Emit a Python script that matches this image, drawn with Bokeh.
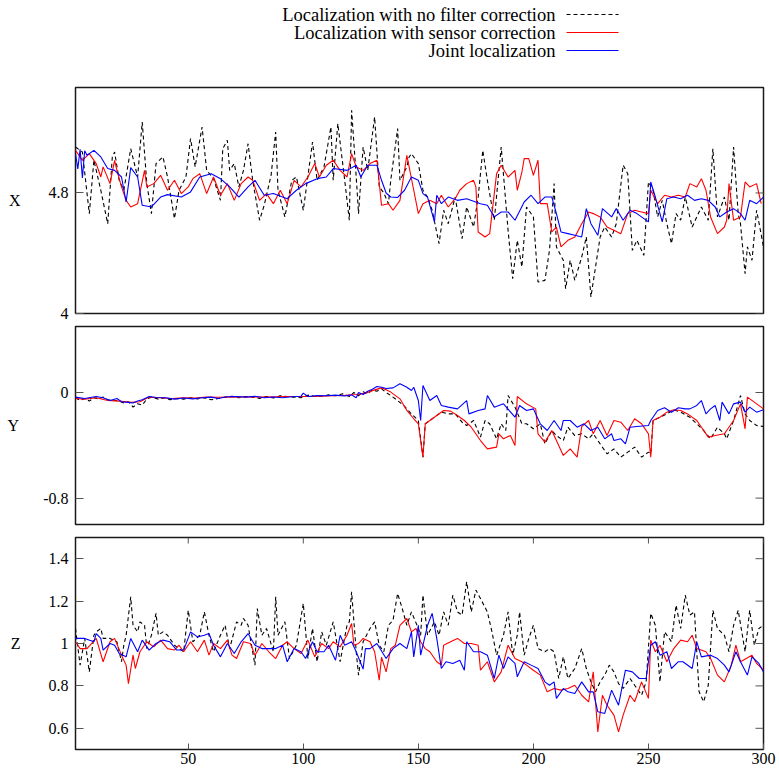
import math
from bokeh.plotting import figure
from bokeh.models import Range1d, FixedTicker, CustomJSTickFormatter, ColumnDataSource
from bokeh.layouts import column
from bokeh.embed import file_html
from bokeh.resources import INLINE
from bokeh.core.properties import value

FONT = "Liberation Serif"

series_labels = ["Localization with no filter correction",
                 "Localization with sensor correction",
                 "Joint localization"]
series_colors = ["#000000", "#ff0000", "#0000ff"]
series_dash = ["4 3", "solid", "solid"]

# ---------------- X panel ----------------
x_nofilter_t = [1,4,7,9,12,15,17,18,20,22,25,28,30,32,34,36,39,41,44,46,49,51,53,56,58,61,64,65,67,68,70,72,74,76,78,81,83,86,88,89,92,95,97,100,104,106,109,112,113,115,118,120,121,123,124,126,128,131,133,135,137,138,141,142,145,146,147,150,152,154,156,159,161,163,166,169,171,174,176,178,180,183,186,189,191,193,195,197,200,202,205,207,209,210,213,214,216,218,221,223,225,227,229,231,234,236,239,241,243,245,248,250,252,254,256,258,260,262,264,266,269,271,273,276,278,280,283,285,287,289,290,292,293,295,297,300]
x_nofilter_v = [5.105,5.072,4.663,5.017,4.818,4.596,5.039,5.072,4.884,4.818,5.094,4.906,5.271,4.862,4.663,4.995,5.039,4.906,4.63,4.818,4.906,5.161,4.973,5.238,4.95,4.895,4.751,5.094,5.15,4.95,4.995,4.84,4.95,5.127,4.884,4.619,4.718,4.917,5.205,4.818,4.641,4.884,4.906,4.685,5.138,4.884,4.973,5.238,4.884,5.26,4.884,4.619,5.349,4.906,4.663,5.105,4.95,5.304,4.84,4.80,4.729,4.884,5.227,4.884,4.973,5.039,5.061,4.995,4.818,4.773,4.685,4.464,4.685,4.596,4.773,4.497,4.707,4.574,4.773,5.083,4.884,4.619,5.105,4.552,4.231,4.486,4.309,4.707,4.641,4.209,4.22,4.42,4.862,4.442,4.353,4.165,4.353,4.22,4.375,4.508,4.11,4.309,4.508,4.574,4.508,4.596,4.984,4.928,4.419,4.486,4.386,4.873,4.818,4.641,4.751,4.596,4.464,4.663,4.619,4.773,4.574,4.641,4.707,4.619,5.094,4.641,4.773,4.619,5.105,4.663,4.596,4.264,4.442,4.353,4.685,4.442]
x_sensor_t = [1,4,7,10,12,13,16,18,19,21,23,25,28,31,32,35,38,41,44,47,50,52,55,58,61,64,67,70,73,76,78,81,84,87,90,93,96,99,102,105,107,110,113,116,119,121,123,126,129,132,134,137,139,142,145,148,150,152,155,158,160,163,166,168,171,174,175,176,179,181,184,186,189,192,193,195,196,198,200,202,203,206,208,210,212,215,218,221,224,226,229,232,235,238,241,244,247,250,251,254,257,260,263,266,268,271,273,275,277,280,283,284,285,287,290,292,294,297,299]
x_sensor_v = [5.083,5.017,5.061,4.995,4.906,4.973,4.862,5.017,4.95,4.84,4.751,4.707,4.729,4.95,4.84,4.862,4.917,4.818,4.884,4.796,4.84,4.895,4.928,4.796,4.906,4.785,4.862,4.751,4.862,4.906,4.884,4.751,4.796,4.729,4.818,4.729,4.884,4.84,4.906,4.995,4.906,4.984,5.017,4.95,4.906,5.061,4.973,4.95,4.995,5.017,4.718,4.729,4.685,4.751,5.05,4.818,4.663,4.729,4.751,4.729,4.785,4.707,4.762,4.818,4.862,4.884,4.84,4.541,4.508,4.53,4.928,4.984,4.906,4.95,4.818,4.939,5.028,5.028,4.917,5.017,4.729,4.729,4.541,4.574,4.442,4.486,4.508,4.596,4.674,4.663,4.641,4.574,4.552,4.53,4.663,4.685,4.674,4.663,4.818,4.729,4.785,4.773,4.785,4.773,4.862,4.84,4.895,4.818,4.641,4.53,4.574,4.619,4.862,4.619,4.641,4.873,4.84,4.862,4.729]
x_joint_t = [1,2,3,4,5,6,9,12,15,18,21,23,25,28,30,34,38,41,47,51,55,60,64,68,72,76,79,83,87,93,97,101,106,110,113,119,123,125,128,132,134,136,138,141,144,147,150,152,154,157,158,160,163,167,171,177,180,183,186,189,192,196,199,202,205,208,210,212,215,218,221,223,225,228,230,234,236,239,242,245,250,251,253,256,258,261,264,267,270,273,276,279,281,284,287,290,292,294,297,300]
x_joint_v = [5.06,4.96,5.09,4.90,5.08,5.05,5.083,5.039,4.962,4.95,4.906,4.74,4.968,4.906,4.718,4.707,4.773,4.789,4.773,4.807,4.906,4.928,4.895,4.84,4.773,4.84,4.884,4.785,4.796,4.762,4.818,4.862,4.895,4.906,4.962,4.95,4.984,4.906,4.984,4.984,4.884,4.80,4.773,4.77,4.818,4.906,4.884,4.796,4.773,4.608,4.785,4.729,4.773,4.751,4.762,4.729,4.718,4.641,4.674,4.674,4.619,4.74,4.785,4.729,4.773,4.773,4.663,4.541,4.53,4.519,4.508,4.696,4.596,4.519,4.696,4.641,4.696,4.619,4.685,4.663,4.608,4.873,4.773,4.608,4.762,4.773,4.762,4.785,4.751,4.762,4.751,4.707,4.641,4.674,4.696,4.663,4.619,4.751,4.729,4.773]

# ---------------- Y panel ----------------
y_nofilter_t = [1,3,5,7,9,11,13,15,18,20,22,24,26,28,30,32,34,37,40,42,45,48,51,54,57,60,63,66,69,72,75,78,81,84,87,90,93,96,99,102,105,108,111,114,117,120,122,124,126,128,130,132,134,136,138,141,144,147,150,152,153,157,160,163,166,169,171,174,177,179,181,184,186,188,189,192,195,197,200,203,205,208,210,213,215,218,221,224,226,229,232,235,238,241,244,247,250,251,252,255,258,261,264,268,271,274,277,280,283,284,287,290,292,294,297,300]
y_nofilter_v = [-0.040,-0.060,-0.045,-0.065,-0.040,-0.050,-0.035,-0.055,-0.060,-0.065,-0.080,-0.070,-0.110,-0.085,-0.095,-0.050,-0.035,-0.050,-0.040,-0.055,-0.045,-0.050,-0.040,-0.048,-0.040,-0.055,-0.045,-0.035,-0.028,-0.040,-0.030,-0.035,-0.045,-0.030,-0.042,-0.025,-0.030,-0.035,-0.040,-0.020,-0.030,-0.028,-0.018,-0.025,-0.010,-0.030,0.000,-0.025,0.005,-0.010,0.020,0.010,0.028,0.000,-0.023,-0.061,-0.105,-0.162,-0.212,-0.490,-0.237,-0.187,-0.149,-0.162,-0.162,-0.225,-0.250,-0.212,-0.338,-0.212,-0.237,-0.351,-0.237,-0.288,-0.023,-0.111,-0.237,-0.237,-0.275,-0.237,-0.389,-0.288,-0.326,-0.364,-0.263,-0.326,-0.313,-0.351,-0.313,-0.389,-0.465,-0.427,-0.490,-0.452,-0.414,-0.490,-0.452,-0.465,-0.212,-0.187,-0.162,-0.131,-0.149,-0.187,-0.237,-0.288,-0.351,-0.263,-0.313,-0.351,-0.212,-0.023,-0.162,-0.212,-0.250,-0.258]
y_sensor_t = [1,5,10,15,20,25,29,33,38,43,48,53,58,63,68,73,78,83,88,93,98,103,108,113,118,123,127,131,134,136,138,142,145,148,150,152,153,155,158,161,164,167,170,173,177,180,184,185,187,190,192,193,197,201,202,205,208,210,213,216,219,221,224,226,229,232,235,238,241,244,247,250,251,252,255,258,261,264,267,271,276,279,283,284,287,290,292,293,296,300]
y_sensor_v = [-0.045,-0.050,-0.040,-0.060,-0.065,-0.075,-0.070,-0.035,-0.040,-0.045,-0.040,-0.042,-0.035,-0.036,-0.035,-0.034,-0.033,-0.035,-0.032,-0.030,-0.030,-0.030,-0.028,-0.025,-0.022,-0.015,-0.005,0.020,0.035,0.020,0.003,-0.048,-0.136,-0.199,-0.237,-0.490,-0.237,-0.212,-0.174,-0.136,-0.141,-0.174,-0.212,-0.263,-0.364,-0.427,-0.414,-0.313,-0.351,-0.326,-0.402,-0.030,-0.086,-0.124,-0.313,-0.376,-0.288,-0.364,-0.477,-0.427,-0.490,-0.258,-0.212,-0.313,-0.212,-0.326,-0.212,-0.225,-0.288,-0.199,-0.237,-0.313,-0.490,-0.212,-0.187,-0.149,-0.131,-0.136,-0.162,-0.212,-0.338,-0.326,-0.313,-0.288,-0.212,-0.086,-0.275,-0.035,-0.073,-0.124]
y_joint_t = [1,5,10,13,16,19,21,24,26,28,30,33,36,40,44,48,52,56,60,63,67,71,75,79,83,87,91,95,99,100,102,106,110,114,118,121,123,124,126,128,130,132,134,136,139,142,145,147,148,150,151,152,155,158,160,163,167,171,172,176,179,180,183,187,192,194,197,200,203,206,209,212,213,216,219,222,225,228,231,234,235,238,240,242,245,250,251,254,257,260,263,266,268,271,273,275,277,279,281,282,285,287,290,292,294,297,300]
y_joint_v = [-0.035,-0.045,-0.030,-0.040,-0.060,-0.045,-0.070,-0.075,-0.080,-0.065,-0.055,-0.030,-0.038,-0.040,-0.050,-0.042,-0.048,-0.040,-0.035,-0.045,-0.032,-0.030,-0.035,-0.028,-0.040,-0.034,-0.040,-0.032,-0.028,-0.005,-0.030,-0.024,-0.025,-0.020,-0.026,-0.018,-0.040,0.000,-0.015,0.010,0.025,0.045,0.040,0.030,0.035,0.066,0.040,0.015,0.040,-0.061,-0.212,0.053,-0.061,-0.023,-0.098,-0.111,-0.124,-0.061,-0.162,-0.136,-0.124,-0.023,-0.111,-0.086,-0.187,-0.098,-0.136,-0.124,-0.237,-0.288,-0.212,-0.288,-0.212,-0.212,-0.263,-0.237,-0.288,-0.263,-0.351,-0.313,-0.364,-0.351,-0.389,-0.263,-0.258,-0.250,-0.212,-0.136,-0.116,-0.149,-0.116,-0.124,-0.124,-0.098,-0.061,-0.162,-0.124,-0.098,-0.212,-0.073,-0.162,-0.086,-0.073,-0.149,-0.111,-0.149,-0.131]

# ---------------- Z panel ----------------
z_nofilter_t = [1,3,5,7,9,10,12,13,16,19,21,22,23,25,26,28,29,31,32,34,36,37,39,41,44,46,48,50,52,55,57,59,61,64,66,68,71,73,74,76,79,80,82,84,87,88,89,92,94,97,100,102,104,106,108,110,113,116,119,120,121,123,124,126,129,131,133,135,137,139,141,143,145,147,150,151,152,154,157,159,161,163,165,167,169,171,173,175,177,180,182,184,187,189,191,193,194,196,198,200,202,205,207,209,211,213,215,218,221,223,225,227,229,231,233,235,237,239,242,244,247,249,251,253,255,257,260,262,264,266,268,270,272,274,276,278,280,283,285,287,289,292,294,296,298,300]
z_nofilter_v = [1.071,0.898,1.024,0.866,1.039,1.055,1.071,1.024,1.024,1.008,0.914,0.992,1.039,1.220,1.086,1.055,1.102,1.086,0.976,1.039,1.142,1.039,1.055,1.039,0.992,0.976,0.961,1.157,1.008,1.039,1.149,1.039,0.961,1.039,1.086,0.976,1.102,1.086,1.118,1.086,0.898,1.165,1.039,1.071,0.961,1.220,1.039,1.102,0.929,0.992,1.189,0.929,1.071,0.914,1.055,0.992,1.102,0.914,1.086,1.102,1.244,0.961,0.851,1.008,1.071,1.102,0.992,0.961,1.086,1.110,1.236,1.165,1.086,1.149,1.071,1.039,1.228,1.039,1.102,1.039,1.149,1.086,1.228,1.149,1.134,1.291,1.149,1.252,1.212,1.149,1.055,0.945,1.039,1.149,0.945,1.039,1.149,0.945,1.024,1.086,0.976,0.961,0.976,0.961,0.835,0.937,0.835,0.882,0.976,0.882,0.819,0.772,0.819,0.851,0.898,0.866,0.811,0.788,0.835,0.803,0.756,0.819,1.142,1.086,0.819,1.055,1.008,1.181,1.071,1.228,1.134,1.149,0.772,0.725,0.803,1.157,1.071,1.039,0.961,1.086,1.157,0.961,1.157,0.992,1.071,1.086]
z_sensor_t = [1,3,6,10,13,16,18,21,23,24,26,27,29,32,35,38,41,44,46,48,51,54,57,59,61,64,67,69,71,74,77,79,82,85,88,91,93,96,99,102,105,108,111,113,116,119,121,122,124,126,129,131,133,134,136,138,140,142,145,147,149,151,153,155,158,160,161,164,167,170,173,176,177,180,183,186,189,192,195,197,200,203,206,209,212,215,218,221,224,226,228,230,232,235,237,239,242,244,247,250,251,253,255,258,261,264,267,269,271,275,277,280,283,286,288,290,295,297,300]
z_sensor_v = [1.008,0.976,0.976,1.024,0.914,1.008,1.024,0.945,0.898,0.811,0.945,0.882,0.961,1.008,0.984,1.016,0.976,0.969,0.992,0.961,1.008,0.961,1.016,0.945,1.000,0.976,1.016,0.945,0.929,1.008,1.000,0.945,1.000,0.961,0.929,0.992,1.008,0.976,0.953,1.016,0.937,1.000,0.976,1.008,0.984,1.039,1.094,0.992,1.000,1.024,1.008,0.961,0.827,0.935,0.866,0.976,0.992,1.086,1.118,1.055,1.071,1.008,0.976,0.961,0.914,0.898,0.992,1.008,1.024,1.000,1.000,0.992,0.874,0.914,0.819,0.866,0.992,0.929,0.914,0.898,0.874,0.851,0.772,0.788,0.780,0.788,0.803,0.756,0.725,0.866,0.583,0.756,0.709,0.662,0.583,0.662,0.756,0.725,0.819,0.741,1.016,0.961,0.992,0.914,0.976,1.016,1.008,1.039,0.976,0.961,0.929,0.851,0.819,0.898,0.992,0.914,0.945,0.906,0.874]
z_joint_t = [1,5,9,10,12,13,16,18,20,23,25,28,30,33,36,39,42,45,48,51,54,57,59,61,64,67,70,73,76,79,82,85,88,91,93,96,99,101,104,106,109,111,114,116,118,121,123,126,127,129,132,136,139,142,145,147,148,150,151,154,156,158,160,162,165,168,170,171,174,177,180,183,185,187,189,192,193,196,199,202,205,207,209,210,213,215,218,221,224,226,228,231,234,237,240,243,246,249,251,253,255,258,260,263,265,269,271,273,277,280,283,285,288,290,293,295,298,300]
z_joint_v = [1.024,1.024,1.008,1.047,1.024,0.969,1.000,0.992,0.953,0.937,1.024,0.961,1.016,0.969,1.000,1.016,1.008,0.969,0.969,1.055,1.031,1.039,1.047,0.992,0.937,1.000,0.953,1.008,1.047,0.992,0.976,0.976,0.976,0.992,0.914,0.976,0.961,0.929,1.008,0.961,0.961,0.992,0.921,1.039,0.992,1.008,0.961,0.879,0.976,0.976,1.000,0.929,0.976,1.000,0.976,1.055,0.937,1.086,0.945,1.086,1.142,1.024,0.882,0.914,0.906,0.921,0.874,1.008,0.961,0.961,0.945,0.835,0.945,0.882,0.937,0.906,0.843,0.914,0.898,0.882,0.819,0.803,0.819,0.741,0.788,0.772,0.764,0.819,0.772,0.772,0.678,0.670,0.780,0.709,0.874,0.866,0.835,0.835,0.992,1.008,0.945,0.961,0.882,0.914,0.914,0.882,1.008,0.937,0.945,0.929,0.898,0.866,0.961,0.914,0.851,0.937,0.906,0.866]

x_ticks = [50, 100, 150, 200, 250, 300]
x_panel_ticks = [4, 4.8]
y_panel_ticks = [-0.8, 0]
z_panel_ticks = [0.6, 0.8, 1, 1.2, 1.4]
x_limits = (1, 300)
panel_limits = {"X": (4, 5.5), "Y": (-1.0, 0.5), "Z": (0.5, 1.5)}

W = 779
LEFT = 75
RIGHT = 16
TICK_COLOR = "#555555"

fmt = CustomJSTickFormatter(code="return tick.toString();")
shared_x = Range1d(*x_limits)


def style_axis(ax, ticks, tick_len, standoff):
    ax.ticker = FixedTicker(ticks=ticks)
    ax.axis_line_color = None
    ax.major_tick_in = tick_len
    ax.major_tick_out = 0
    ax.major_tick_line_color = TICK_COLOR
    ax.major_tick_line_width = 1
    ax.minor_tick_line_color = None
    ax.major_label_text_font = FONT
    ax.major_label_text_font_style = "normal"
    ax.major_label_text_color = "#000000"
    ax.formatter = fmt
    ax.major_label_text_font_size = "16px"
    ax.major_label_standoff = standoff


def panel(name, series, yticks, height, top, bottom, show_x, lab_standoff, lab_baseline):
    lo, hi = panel_limits[name]
    p = figure(width=W, height=height, x_range=shared_x, y_range=Range1d(lo, hi),
               output_backend="svg", toolbar_location=None,
               x_axis_location="below" if show_x else None, y_axis_location="left",
               min_border_left=LEFT, min_border_right=RIGHT,
               min_border_top=top, min_border_bottom=bottom)
    p.grid.visible = False
    p.outline_line_color = "#1a1a1a"
    p.outline_line_width = 1.5
    p.background_fill_color = "white"
    p.border_fill_color = "white"
    ya = p.yaxis[0]
    style_axis(ya, yticks, 8, 7)
    ya.axis_label = name
    ya.axis_label_orientation = "horizontal"
    ya.axis_label_text_font = FONT
    ya.axis_label_text_font_style = "normal"
    ya.axis_label_text_font_size = "16px"
    ya.axis_label_text_color = "black"
    ya.axis_label_text_baseline = lab_baseline
    ya.axis_label_standoff = lab_standoff
    # mirrored ticks on the right border (gnuplot "mirror" style)
    p.ray(x=[x_limits[1]] * len(yticks), y=yticks, length=8, length_units="screen",
          angle=math.pi, line_color=TICK_COLOR, line_width=1)
    if show_x:
        style_axis(p.xaxis[0], x_ticks, 6, 3)
        p.ray(x=x_ticks, y=[hi] * len(x_ticks), length=6, length_units="screen",
              angle=-math.pi / 2, line_color=TICK_COLOR, line_width=1)
    for (t, v), color, dash in zip(series, series_colors, series_dash):
        n = min(len(t), len(v))
        src = ColumnDataSource(dict(t=t[:n], v=v[:n]))
        p.line("t", "v", source=src, line_color=color, line_width=1.1, line_dash=dash)
    return p


# legend figure: frame aligned with panels so that data x == page pixel x
lg = figure(width=W, height=80, x_range=Range1d(LEFT, W - RIGHT), y_range=Range1d(80, 0),
            output_backend="svg", toolbar_location=None,
            min_border_left=LEFT, min_border_right=RIGHT,
            min_border_top=0, min_border_bottom=0,
            x_axis_location=None, y_axis_location=None)
lg.grid.visible = False
lg.outline_line_color = None
rows = [14, 32, 50]
lsrc = ColumnDataSource(dict(x=[555] * 3, y=rows, text=series_labels))
lg.text("x", "y", text="text", source=lsrc, text_font=value(FONT), text_font_size="18.5px",
        text_align="right", text_baseline="middle", text_color="black")
for yy, color, dash in zip(rows, series_colors, series_dash):
    lg.line([566, 618], [yy, yy], line_color=color, line_width=1.1, line_dash=dash)

px = panel("X", [(x_nofilter_t, x_nofilter_v), (x_sensor_t, x_sensor_v), (x_joint_t, x_joint_v)],
           x_panel_ticks, 242, 7, 9, False, 25, "bottom")
py = panel("Y", [(y_nofilter_t, y_nofilter_v), (y_sensor_t, y_sensor_v), (y_joint_t, y_joint_v)],
           y_panel_ticks, 208, 4, 6, False, 21, "top")
pz = panel("Z", [(z_nofilter_t, z_nofilter_v), (z_sensor_t, z_sensor_v), (z_joint_t, z_joint_v)],
           z_panel_ticks, 248, 7, 29, True, 25, "middle")

layout = column(lg, px, py, pz, spacing=0)
open("out.html", "w").write(file_html(layout, INLINE))
